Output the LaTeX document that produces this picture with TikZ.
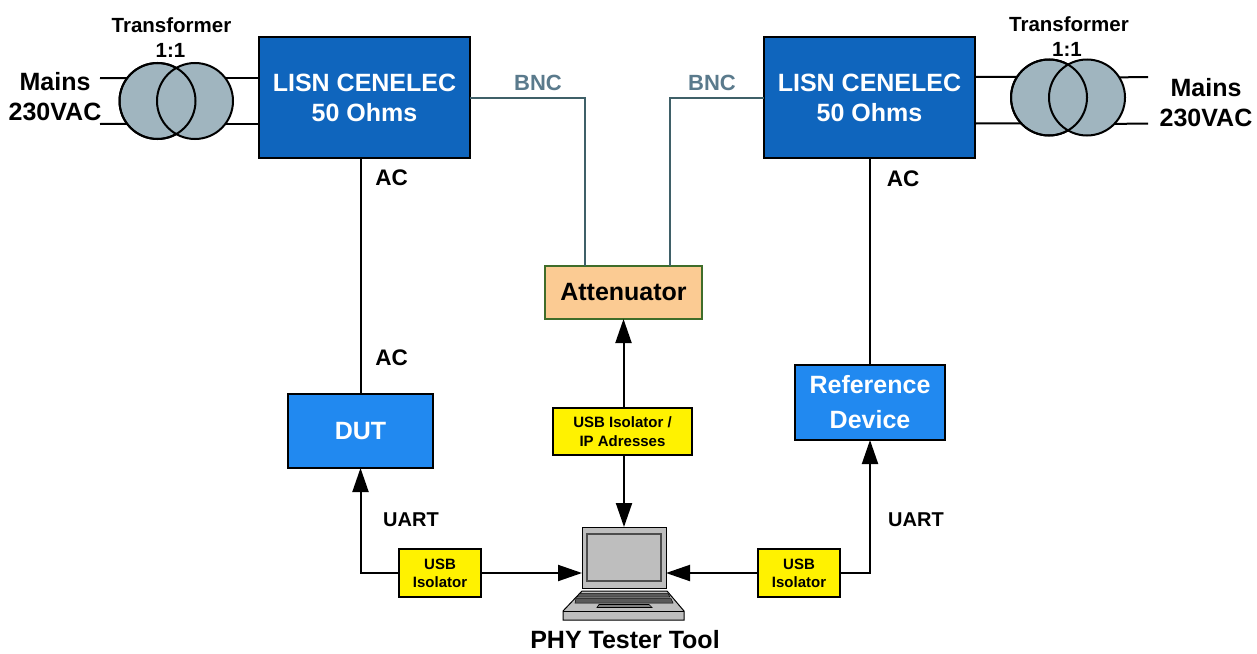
\documentclass[tikz,border=0pt]{standalone}
\usepackage{fontspec}
\setmainfont{Liberation Sans}
\usepackage{xcolor}
\usetikzlibrary{arrows.meta,calc}
\definecolor{lisnblue}{HTML}{0F65BD}
\definecolor{devblue}{HTML}{2189F0}
\definecolor{attfill}{HTML}{FBCB93}
\definecolor{attedge}{HTML}{3F6D2A}
\definecolor{coilgrey}{HTML}{A0B5BF}
\definecolor{bnctext}{HTML}{5A7A8C}
\definecolor{bncline}{HTML}{3F6068}
\definecolor{lapgrey}{HTML}{BEBEBE}
\newcommand{\fs}[1]{\fontsize{#1}{#1}\selectfont\bfseries}

\begin{document}
\begin{tikzpicture}[x=1pt,y=-1pt,
    box/.style={draw=black,line width=2pt,inner sep=0pt,outer sep=0pt,align=center,text=white,font=\fs{25}},
    lisn/.style={box,fill=lisnblue,minimum width=211pt,minimum height=121pt},
    device/.style={box,fill=devblue},
    usbbox/.style={draw=black,line width=1.5pt,fill=yellow,inner sep=0pt,outer sep=0pt,align=center,font=\fs{15}},
    coil/.style={circle,draw=black,line width=2pt,fill=coilgrey,minimum size=76pt,inner sep=0pt,outer sep=0pt},
    wire/.style={line width=2pt,black},
    bnc/.style={line width=2pt,bncline},
    link/.style={wire,-{Triangle[length=24pt,width=16pt]}},
    lbl/.style={font=\fs{25},align=center,inner sep=0pt}]
  \useasboundingbox (0,0) rectangle (1257,653);
  % main boxes
  \node[lisn] (lisnL) at (364.5,97.5) {LISN CENELEC\\[5pt]50 Ohms};
  \node[lisn] (lisnR) at (869.5,97.5) {LISN CENELEC\\[5pt]50 Ohms};
  \node[box,draw=attedge,fill=attfill,text=black,line width=1.5pt,minimum width=157pt,minimum height=53pt] (atten) at (623.5,292.5) {Attenuator};
  \node[device,minimum width=145pt,minimum height=74pt] (dut) at (360.5,431) {\raisebox{-2pt}{DUT}};
  \node[device,minimum width=150pt,minimum height=75pt] (refdev) at (870,402.5) {Reference\\[10pt]Device};
  % usb boxes
  \node[usbbox,minimum width=139pt,minimum height=47pt] (usbC) at (622.5,431.5) {USB Isolator /\\[4pt]IP Adresses};
  \node[usbbox,minimum width=82pt,minimum height=48pt] (usbL) at (440,573) {USB\\[3pt]Isolator};
  \node[usbbox,minimum width=82pt,minimum height=48pt] (usbR) at (799,573) {USB\\[3pt]Isolator};
  % transformers
  \node[coil] (txL1) at (157.5,101) {};
  \node[coil] (txL2) at (195,101) {};
  \draw[line width=2pt] (txL1.center) circle[radius=38];
  \node[coil] (txR1) at (1049,97.5) {};
  \node[coil] (txR2) at (1087,97.5) {};
  \draw[line width=2pt] (txR1.center) circle[radius=38];
  \coordinate (mainsL) at (100,78);
  \coordinate (mainsLb) at (100,124);
  \coordinate (mainsR) at (1148,77);
  \coordinate (mainsRb) at (1148,123.5);
  \draw[wire] (mainsL) -- (txL1.143);
  \draw[wire] (mainsLb) -- (txL1.217);
  \draw[wire] (txL2.37) -- (txL2.37 -| lisnL.west);
  \draw[wire] (txL2.323) -- (txL2.323 -| lisnL.west);
  \draw[wire] (lisnR.east |- mainsR) -- (txR1.147.4);
  \draw[wire] (lisnR.east |- mainsRb) -- (txR1.223.2);
  \draw[wire] (txR2.32.6) -- (mainsR);
  \draw[wire] (txR2.316.8) -- (mainsRb);
  % laptop
  \fill[lapgrey,draw=black,line width=1pt] (582,591) -- (667,591) -- (684,611) -- (684,620) -- (563,620) -- (563,611) -- cycle;
  \draw[line width=1pt] (563,611) -- (684,611);
  \fill[black!65,draw=black,line width=.5pt] (579.5,593.5) -- (668,593.5) -- (670,597) -- (577,597) -- cycle;
  \fill[black!65,draw=black,line width=.5pt] (576,598.5) -- (671,598.5) -- (673,603) -- (575,603) -- cycle;
  \draw[line width=.7pt,fill=black!50] (599,604.5) -- (649,604.5) -- (652,607.5) -- (597,607.5) -- cycle;
  \node[draw=black,line width=1pt,fill=lapgrey,minimum width=84pt,minimum height=61pt,inner sep=0pt,outer sep=0pt] (tester) at (624,557.5) {};
  \node[draw=black!70,line width=1.5pt,fill=lapgrey,minimum width=74pt,minimum height=47pt,inner sep=0pt] (screen) at (tester.center) {};
  % connectors
  \draw[wire] (dut.north) -- (dut.north |- lisnL.south);
  \draw[wire] (refdev.north) -- (refdev.north |- lisnR.south);
  \coordinate (bncL) at (585,266);
  \coordinate (bncR) at (670,266);
  \draw[bnc] (lisnL.east) -| (bncL);
  \draw[bnc] (lisnR.west) -| (bncR);
  \draw[link] (usbC.north -| atten.south) -- (atten.south);
  \draw[link] (usbC.south -| tester.north) -- (tester.north);
  \draw[link] (usbL.west) -| (dut.south);
  \draw[link] (usbL.east) -- (usbL.east -| tester.west);
  \draw[link] (usbR.east) -| (refdev.south);
  \draw[link] (usbR.west) -- (usbR.west -| tester.east);
  % labels
  \node[lbl,font=\fs{20.5}] (txtL) at (171.5,25) {Transformer};
  \node[lbl,font=\fs{20.5}] (txrL) at (170.5,50) {1:1};
  \node[lbl,font=\fs{20.5}] (txtR) at (1069,24) {Transformer};
  \node[lbl,font=\fs{20.5}] (txrR) at (1067,49) {1:1};
  \node[lbl] (mainL) at (55,82) {Mains};
  \node[lbl] (voltL) at (55,112) {230VAC};
  \node[lbl] (mainR) at (1206,88) {Mains};
  \node[lbl] (voltR) at (1206,118) {230VAC};
  \node[lbl,font=\fs{22},text=bnctext] (bncA) at (538,83) {BNC};
  \node[lbl,font=\fs{22},text=bnctext] (bncB) at (712,83) {BNC};
  \node[lbl,font=\fs{22.5}] (acA) at (391.5,178) {AC};
  \node[lbl,font=\fs{22.5}] (acB) at (391.5,358) {AC};
  \node[lbl,font=\fs{22.5}] (acC) at (903,179) {AC};
  \node[lbl,font=\fs{20}] (uartL) at (411,520) {UART};
  \node[lbl,font=\fs{20}] (uartR) at (916,520) {UART};
  \node[lbl] (toolname) at (625,640) {PHY Tester Tool};
\end{tikzpicture}
\end{document}
